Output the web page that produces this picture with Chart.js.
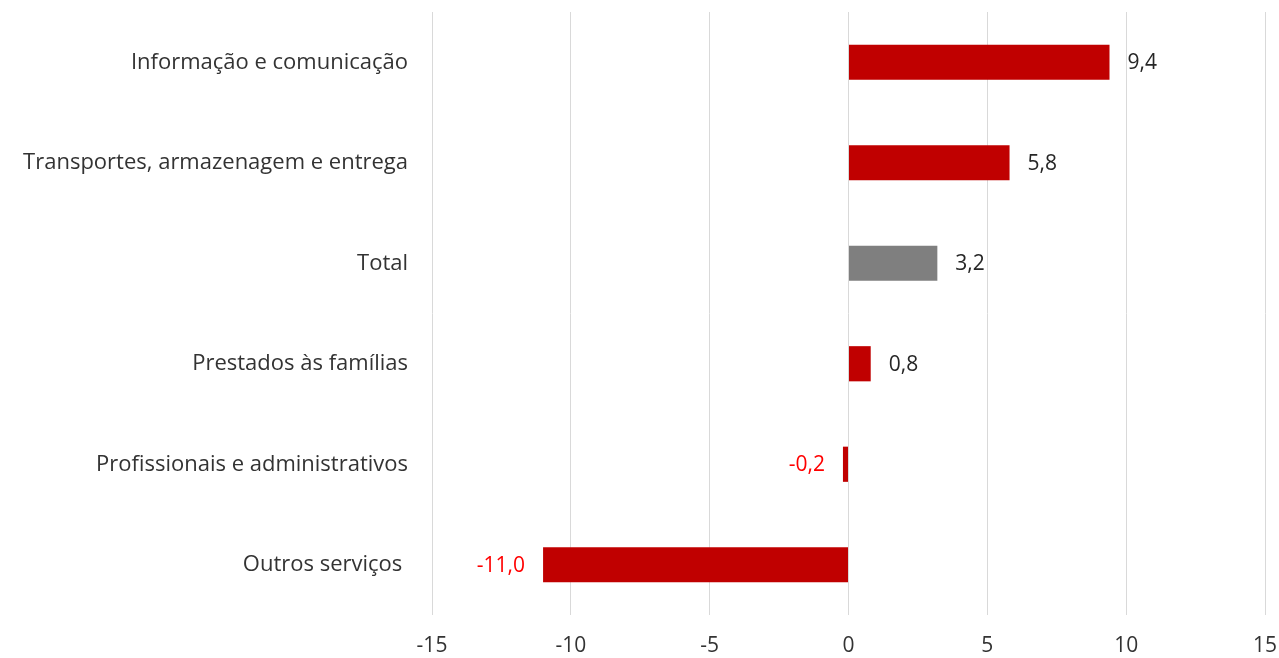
<!DOCTYPE html>
<html>
<head>
<meta charset="utf-8">
<script src="https://cdn.jsdelivr.net/npm/chart.js@4"></script>
<style>
html,body{margin:0;padding:0;background:#fff;}
#wrap{width:1279px;height:658px;position:relative;}
</style>
</head>
<body>
<div id="wrap"><canvas id="c" width="1279" height="658"></canvas></div>
<script>
const categories = ["Informação e comunicação","Transportes, armazenagem e entrega","Total","Prestados às famílias","Profissionais e administrativos","Outros serviços "];
const values = [9.4, 5.8, 3.2, 0.8, -0.2, -11.0];
const barColors = ["#C00000","#C00000","#7F7F7F","#C00000","#C00000","#C00000"];
const xTicks = [-15,-10,-5,0,5,10,15];

const FONT = "'Open Sans', sans-serif";
const FSIZE = 21;

const labelPlugin = {
  id: 'valueLabels',
  afterDatasetsDraw(chart) {
    const ctx = chart.ctx;
    const meta = chart.getDatasetMeta(0);
    ctx.save();
    ctx.font = FSIZE + "px " + FONT;
    ctx.textBaseline = 'middle';
    meta.data.forEach((bar, i) => {
      const v = values[i];
      const txt = v.toFixed(1).replace('.', ',');
      if (v >= 0) {
        ctx.fillStyle = '#262626';
        ctx.textAlign = 'left';
        ctx.fillText(txt, bar.x + 18, bar.y + 1);
      } else {
        ctx.fillStyle = '#FF0000';
        ctx.textAlign = 'right';
        ctx.fillText(txt, bar.x - 18, bar.y + 1);
      }
    });
    ctx.restore();
  }
};

new Chart(document.getElementById('c'), {
  type: 'bar',
  data: {
    labels: categories,
    datasets: [{
      data: values,
      backgroundColor: barColors,
      barPercentage: 0.7,
      categoryPercentage: 0.5
    }]
  },
  options: {
    indexAxis: 'y',
    responsive: false,
    animation: false,
    layout: { padding: { top: 12, right: 14, left: 0, bottom: 0 } },
    plugins: { legend: { display: false }, tooltip: { enabled: false } },
    scales: {
      x: {
        min: -15, max: 15,
        afterBuildTicks(scale) { scale.ticks = xTicks.map(v => ({ value: v })); },
        afterFit(scale) { scale.height = 43; scale.paddingLeft = 0; scale.paddingRight = 0; },
        grid: { color: '#D9D9D9', drawTicks: false, lineWidth: 1 },
        border: { display: false },
        ticks: { padding: 18, color: '#333333', font: { family: FONT, size: FSIZE } }
      },
      y: {
        afterFit(scale) { scale.width = 432; scale.paddingTop = 0; scale.paddingBottom = 0; },
        grid: { display: false, drawTicks: false },
        border: { display: false },
        ticks: { padding: 24, color: '#333333', font: { family: FONT, size: 22 } }
      }
    }
  },
  plugins: [labelPlugin]
});
</script>
</body>
</html>
